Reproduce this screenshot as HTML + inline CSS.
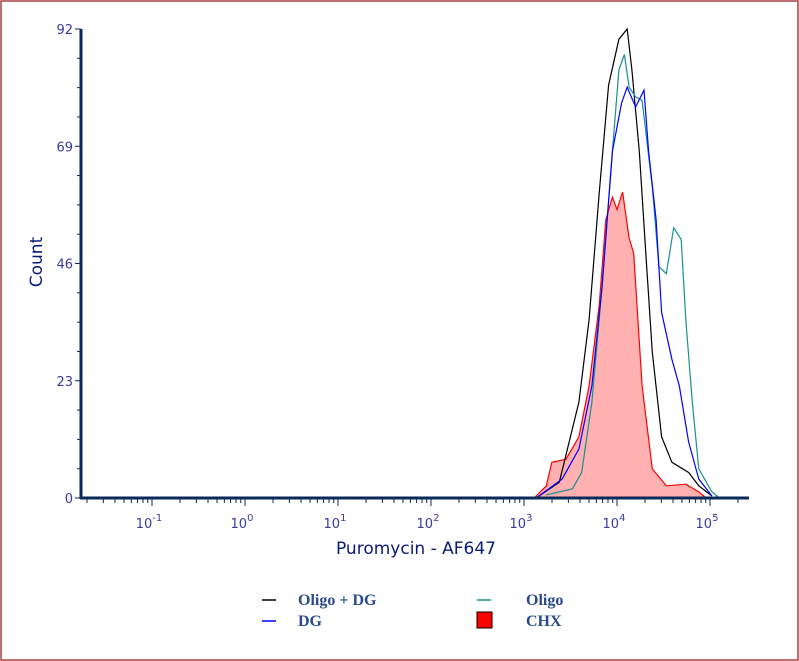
<!DOCTYPE html>
<html><head><meta charset="utf-8"><style>
html,body{margin:0;padding:0;background:#fff}
svg{display:block}
</style></head><body>
<svg id="chart" width="799" height="661" viewBox="0 0 799 661" xmlns="http://www.w3.org/2000/svg">
<rect x="1" y="1" width="797" height="659" fill="#fff" stroke="#a84040" stroke-width="1.5"/>
<g id="plot"></g>
<text transform="translate(42,262) rotate(-90)" text-anchor="middle" font-family="'DejaVu Sans',sans-serif" font-size="17" fill="#0a1a7a">Count</text>
<text x="416" y="554" text-anchor="middle" font-family="'DejaVu Sans',sans-serif" font-size="17" fill="#0a1a7a">Puromycin - AF647</text>
<g font-family="'Liberation Serif',serif" font-weight="bold" font-size="16" fill="#2a4a8a">
<g><line x1="262" y1="600" x2="276" y2="600" stroke="#000" stroke-width="1.5"/><text x="298" y="605">Oligo + DG</text></g>
<g><line x1="262" y1="621" x2="276" y2="621" stroke="#0000ff" stroke-width="1.5"/><text x="298" y="626">DG</text></g>
<g><line x1="477" y1="600" x2="491" y2="600" stroke="#1a9090" stroke-width="1.5"/><text x="526" y="605">Oligo</text></g>
<g><rect x="477" y="612" width="15" height="16" fill="#ff0000" stroke="#000" stroke-width="1"/><text x="526" y="626">CHX</text></g>
</g>
</svg>
<script>
const yTicks=[0,23,46,69,92];
const xDecades=[-1,0,1,2,3,4,5];
const chxX=[3.11,3.24,3.30,3.45,3.59,3.70,3.81,3.88,3.95,4.00,4.06,4.13,4.18,4.27,4.38,4.53,4.74,4.88,4.96];
const chxY=[0,2.4,7,7.6,12,22,38,54.6,59,56.6,60,51,48,22,5.7,2.4,2.7,1.2,0];
const oligoDgX=[3.13,3.38,3.59,3.70,3.81,3.91,4.02,4.11,4.16,4.24,4.31,4.38,4.48,4.59,4.77,4.88,5.02];
const oligoDgY=[0,3.1,18.8,35,60,81,90,92,84,68,48,28.6,12,7,5,2.4,0.4];
const oligoX=[3.24,3.52,3.62,3.73,3.84,3.95,4.02,4.08,4.13,4.20,4.27,4.38,4.45,4.53,4.61,4.69,4.74,4.81,4.88,5.02,5.10];
const oligoY=[0.6,1.8,5,18.8,41.5,68,84,87,80.6,78.7,78,61,45.4,44,53,50.7,35,18.8,5.7,1.2,0];
const dgX=[3.13,3.41,3.59,3.73,3.84,3.95,4.05,4.11,4.20,4.29,4.34,4.42,4.48,4.59,4.67,4.77,4.88,5.02];
const dgY=[0,3.7,9.6,22,41.5,68,77.5,80.6,76.7,80,68,54.6,36.4,27.2,22,11,3.7,0.4];

const NS='http://www.w3.org/2000/svg';
const g=document.getElementById('plot');
const X0=81,X1=749,Y0=498,Y1=29;
const xs=l=>617+93*(l-4);
const ys=c=>Y0-(c/92)*(Y0-Y1);
function mk(tag,attrs,parent){const e=document.createElementNS(NS,tag);for(const k in attrs)e.setAttribute(k,attrs[k]);(parent||g).appendChild(e);return e;}
function pts(xa,ya){return xa.map((x,i)=>xs(x).toFixed(1)+','+ys(ya[i]).toFixed(1)).join(' ');}

// CHX filled area
let p=mk('polygon',{points:xs(chxX[0])+','+Y0+' '+pts(chxX,chxY)+' '+xs(chxX[chxX.length-1])+','+Y0,fill:'#ffb0b0',stroke:'none'});


const series=[[chxX,chxY,'#ff0000','chx-line'],[oligoDgX,oligoDgY,'#000000','oligo-dg-line'],[oligoX,oligoY,'#1a9090','oligo-line'],[dgX,dgY,'#0000ff','dg-line']];
series.forEach(s=>{
  const l=mk('polyline',{points:pts(s[0],s[1]),fill:'none',stroke:s[2],'stroke-width':1.2});
  
  
});

// axes
let ax=mk('line',{x1:X0,y1:Y1,x2:X0,y2:Y0+1,stroke:'#0a2a5a','stroke-width':3});


let axx=mk('line',{x1:X0-1,y1:Y0,x2:X1,y2:Y0,stroke:'#0a2a5a','stroke-width':3});



yTicks.forEach((t,i)=>{
  const y=ys(t);
  mk('line',{x1:X0-6,y1:y,x2:X0,y2:y,stroke:'#0a2a5a','stroke-width':1});
  const tx=mk('text',{x:X0-8,y:y+5,'text-anchor':'end','font-family':"'DejaVu Sans',sans-serif",'font-size':13,fill:'#3a3aa0'});
  tx.textContent=t;
  
  
  if(i<yTicks.length-1){for(let k=1;k<4;k++){const yy=ys(t+(yTicks[i+1]-t)*k/4);mk('line',{x1:X0-4,y1:yy,x2:X0,y2:yy,stroke:'#0a2a5a','stroke-width':1});}}
});

for(let d=-2;d<=5;d++){
  for(let m=1;m<10;m++){
    const x=xs(d+Math.log10(m));
    if(x<X0+2||x>X1)continue;
    mk('line',{x1:x,y1:Y0,x2:x,y2:Y0+(m===1?8:5),stroke:'#0a2a5a','stroke-width':1});
  }
}
xDecades.forEach(d=>{
  const x=xs(d);
  const t=mk('text',{x:x-3,y:528,'text-anchor':'middle','font-family':"'DejaVu Sans',sans-serif",'font-size':13,fill:'#3a3aa0'});
  
  
  const a=document.createElementNS(NS,'tspan');a.textContent='10';t.appendChild(a);
  const b=document.createElementNS(NS,'tspan');b.setAttribute('dy','-7');b.setAttribute('font-size','10');b.textContent=String(d);t.appendChild(b);
});
</script>
</body></html>
